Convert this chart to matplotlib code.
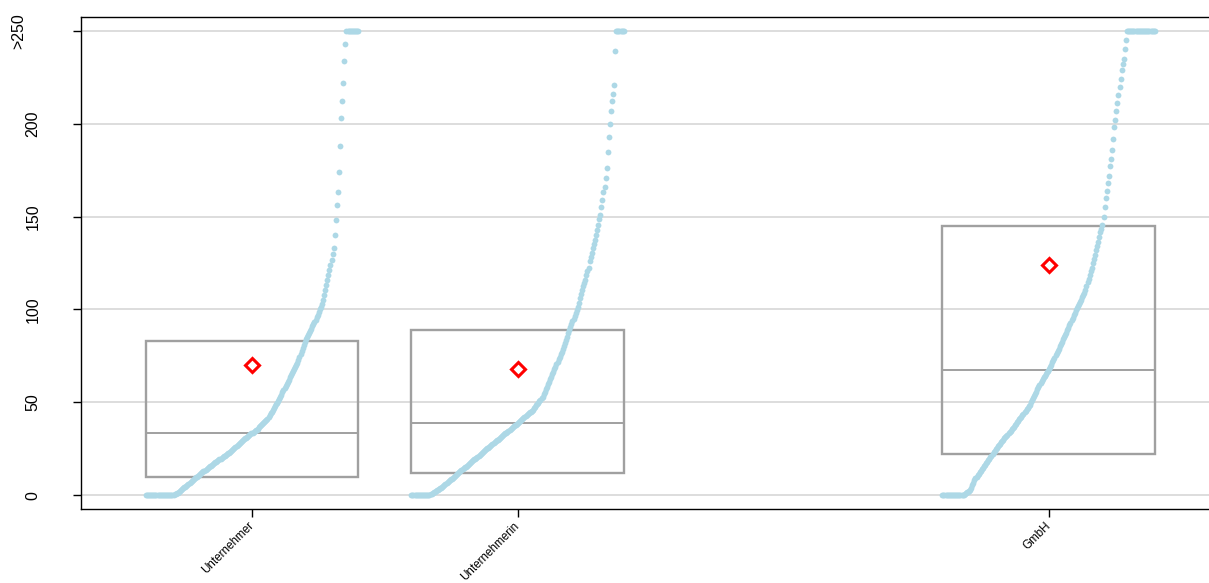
import matplotlib
matplotlib.use("Agg")
import matplotlib.pyplot as plt
from matplotlib.patches import Rectangle
from matplotlib.transforms import ScaledTranslation
import numpy as np

plt.rcParams["font.family"] = ["Liberation Sans", "DejaVu Sans"]

# ── Data ──
groups = ["Unternehmer", "Unternehmerin", "GmbH"]
slots = [1, 2, 4]          # third category slot is empty

n_zero = [26, 17, 20]      # observations equal to 0
n_over = [12, 8, 27]       # observations above 250 (shown at ">250")

# sorted observations between 0 and 250
vals_unternehmer = [
    0.2, 0.4, 0.6, 0.9,
    1.2, 1.7, 2.2, 2.7, 3.2, 3.6, 4.1, 4.6, 5.1, 5.6, 6.1, 6.6, 7.1, 7.5, 8.0, 8.5, 9.0, 9.5, 9.9,
    10.4, 10.8, 11.3, 11.7, 12.2, 12.7, 13.1, 13.6, 14.0, 14.5, 15.0, 15.4, 15.9, 16.3, 16.8, 17.2,
    17.6, 18.0, 18.4, 18.8, 19.2, 19.6, 20.0, 20.4, 20.8, 21.2, 21.6, 22.0, 22.4, 22.8, 23.2,
    23.8, 24.3, 24.8, 25.3, 25.9, 26.4, 26.9, 27.4, 27.9, 28.5, 29.0, 29.5, 30.0, 30.5, 31.0, 31.5,
    32.0, 32.4, 32.9, 33.3, 33.7, 34.1, 34.4, 34.8, 35.2, 35.8, 36.4, 37.0, 37.5, 38.1, 38.7, 39.2,
    39.8, 40.4,
    41.2, 42.1, 43.1, 44.0, 45.0, 46.0, 46.9, 47.9, 48.8, 49.8,
    50.7, 51.8, 53.0, 54.1, 55.3, 56.4, 57.6, 58.7, 59.9,
    61.1, 62.2, 63.4, 64.5, 65.7, 66.8, 68.0, 69.1, 70.3, 71.4,
    73.0, 74.6, 76.2, 77.8, 79.3, 80.9, 82.5, 83.8,
    85.0, 86.1, 87.2, 88.4, 89.6, 90.8, 92.0, 93.3, 94.5,
    95.8, 97.2, 98.6, 100.0, 101.4, 102.8,
    105.0, 107.7, 110.4, 113.1, 115.8, 118.5, 121.2, 123.9,
    126.5, 129.8, 133.1, 140, 148, 156, 163, 174, 188, 203, 212, 222, 234, 243,
]
vals_unternehmerin = [
    0.1, 0.4, 0.8, 1.1, 1.5, 1.9, 2.2, 2.6, 2.9, 3.3, 3.7, 4.0, 4.4,
    4.9, 5.4, 5.9, 6.4, 6.9, 7.4, 7.9, 8.4, 8.9, 9.4, 9.9, 10.4, 10.9, 11.4, 11.9, 12.4, 12.9,
    13.4, 13.9, 14.4, 14.9, 15.3,
    15.8, 16.3, 16.8, 17.3, 17.8, 18.3, 18.7, 19.2, 19.7, 20.2, 20.7, 21.2, 21.7, 22.1, 22.6,
    23.1, 23.6, 24.1, 24.6, 25.1, 25.6, 26.0,
    26.5, 27.0, 27.4, 27.9, 28.4, 28.9, 29.4, 29.8, 30.3, 30.8, 31.3, 31.7, 32.2, 32.7, 33.2,
    33.7, 34.1, 34.6, 35.1,
    35.5, 36.0, 36.5, 37.0, 37.5, 38.0, 38.5, 39.0, 39.5,
    40.0, 40.5, 41.0, 41.5, 42.0, 42.5, 43.0, 43.5, 44.0, 44.5, 45.0, 45.5, 46.0,
    46.8, 47.5, 48.3, 49.1, 49.8, 50.6, 51.4, 52.2, 52.9,
    54.3, 55.6, 57.0, 58.3, 59.6, 61.0, 62.3, 63.6, 65.0,
    66.5, 67.8, 69.2, 70.5, 71.8, 73.2, 74.5, 75.8, 77.1, 78.5,
    80.2, 81.9, 83.6, 85.4, 87.1, 88.8,
    90.3, 91.9, 93.5, 95.1, 96.7, 98.3, 99.9, 101.3,
    103.5, 105.9, 108.3, 110.7, 112.5,
    114, 116, 118.5, 120.5, 122.5, 126,
    128, 130.5, 133, 135, 137.5,
    140, 143, 145.5, 148.5,
    151, 155, 159, 163,
    166, 171, 176, 185, 193, 200, 207, 212, 216, 221, 239,
]
vals_gmbh = [
    0.1, 0.5, 1.0, 1.4, 1.8, 2.3, 2.7,
    4.0, 5.3, 6.6, 7.9, 9.1,
    9.9, 10.7, 11.5, 12.3, 13.1, 13.9, 14.8, 15.6,
    16.3, 17.1, 18.0, 18.8, 19.6, 20.5, 21.3, 22.2, 23.0, 23.8, 24.7, 25.5, 26.3,
    27.0, 27.7, 28.4, 29.1, 29.8, 30.5, 31.2, 31.9, 32.6, 33.3, 34.0, 34.7, 35.4, 36.1, 36.8,
    37.6, 38.4, 39.2, 40.0, 40.8, 41.6, 42.3, 43.1, 43.9, 44.7, 45.5, 46.3, 47.1, 47.9, 48.7,
    49.9, 51.0, 52.2, 53.4, 54.5, 55.7, 56.9, 58.0, 59.2, 60.4, 61.5, 62.7,
    63.5, 64.4, 65.2, 66.1, 66.9, 67.8,
    69.0, 70.2, 71.5, 72.7, 74.0, 75.2, 76.4, 77.7, 78.9, 80.1, 81.4, 82.6, 83.8, 85.1, 86.3, 87.5,
    88.8, 90.1, 91.5, 92.8, 94.1, 95.5, 96.8, 98.1, 99.5,
    100.7, 101.9, 103.0, 104.2, 105.3, 106.5, 107.6, 108.8, 110.4,
    112.5, 114.5, 116.5, 118.5, 120.5, 122.5,
    124.8, 127.1, 129.4, 131.8, 134.1, 136.4,
    139, 141.5, 143.5, 145.5,
    150, 155, 160,
    164, 168, 172, 177, 181,
    186, 192, 198,
    202, 207, 211, 215.5, 220, 224, 229, 232, 235, 240, 245,
]
group_vals = [vals_unternehmer, vals_unternehmerin, vals_gmbh]

q1 = [9.8, 11.8, 22.1]
median = [33.3, 38.7, 67.6]
q3 = [82.8, 88.9, 144.7]
mean = [69.8, 67.9, 123.7]

ytick_vals = [0, 50, 100, 150, 200, 250]
ytick_labels = ["0", "50", "100", "150", "200", ">250"]
cap = 250

# ── Figure ──
W, H = 1209, 583
fig = plt.figure(figsize=(W / 100, H / 100), dpi=100)
ax = fig.add_axes([81 / W, (H - 509) / H, (1210 - 81) / W, (509 - 17) / H])

box_gray = "#a0a0a0"
half = 0.4

for yv in ytick_vals:
    ax.axhline(yv, color="#dddddd", lw=1.4, zorder=0)

for k, c in enumerate(slots):
    v = np.concatenate([np.zeros(n_zero[k]), group_vals[k], np.full(n_over[k], cap)])
    v = np.sort(np.minimum(v, cap))
    n = len(v)
    xs = c - half + 2 * half * np.arange(n) / (n - 1)

    ax.add_patch(Rectangle((c - half, q1[k]), 2 * half, q3[k] - q1[k],
                           fill=False, edgecolor=box_gray, lw=1.7, zorder=2))
    ax.plot([c - half, c + half], [median[k], median[k]], color=box_gray, lw=1.4, zorder=2)

    ax.scatter(xs, v, s=4.2 ** 2, color="#add8e6", linewidths=0, zorder=3)

    ax.plot(c, mean[k], marker="D", ms=7.4, mfc="white", mec="#ff0000", mew=2.2,
            linestyle="none", zorder=4)

ax.set_xlim(0.356, 4.608)
ax.set_ylim(-7.5, 257.5)

for sp in ax.spines.values():
    sp.set_linewidth(1.0)
    sp.set_color("black")

ax.set_xticks(slots)
ax.set_xticklabels(groups, rotation=45, ha="right", va="center",
                   rotation_mode="anchor", fontsize=8.4)
ax.tick_params(axis="x", length=6, width=1, pad=5)

ax.set_yticks(ytick_vals)
ax.set_yticklabels(ytick_labels, rotation=90, va="center", fontsize=11.5)
ax.tick_params(axis="y", length=6, width=1, pad=23)
# ">250" sits further out than the other labels
lab = ax.get_yticklabels()[-1]
lab.set_transform(lab.get_transform() + ScaledTranslation(-0.14, 0, fig.dpi_scale_trans))

fig.savefig("out.png", dpi=100, facecolor="white")
